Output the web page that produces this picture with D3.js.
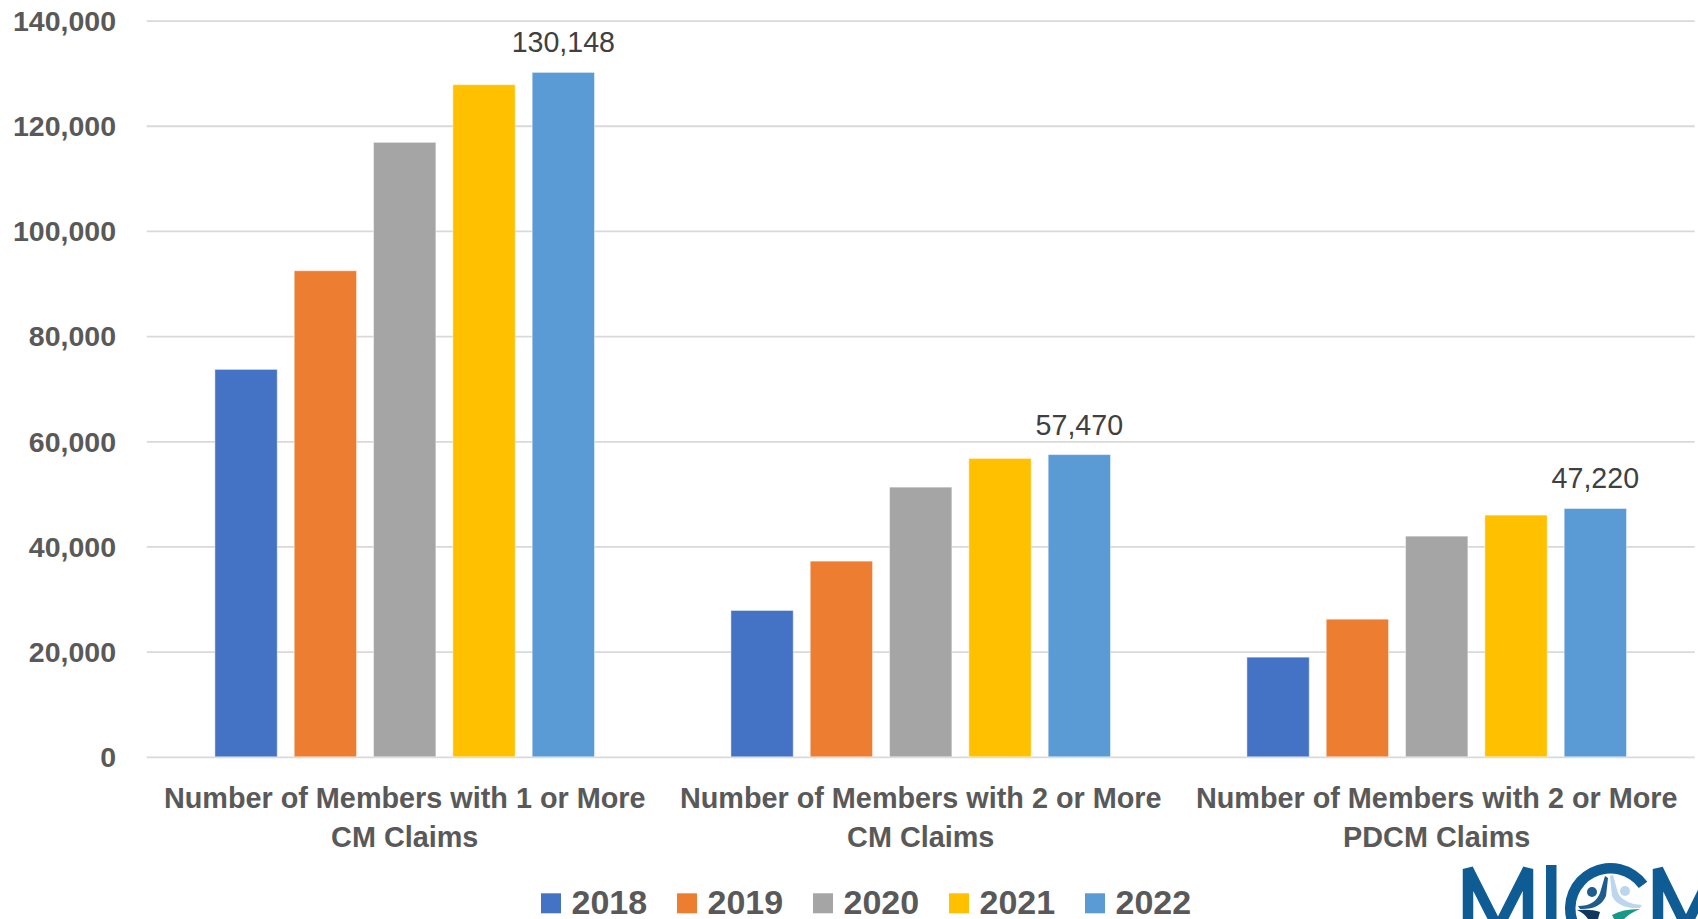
<!DOCTYPE html>
<html>
<head>
<meta charset="utf-8">
<script src="https://cdn.jsdelivr.net/npm/d3@7"></script>
<style>
  html, body { margin: 0; padding: 0; background: #ffffff; }
  svg { display: block; }
  text { font-family: "Liberation Sans", Arial, sans-serif; }
</style>
</head>
<body>
<svg id="chart" width="1698" height="919"></svg>
<script>
// Members with CM / PDCM claims, by year
const categories = [
  ["Number of Members with 1 or More", "CM Claims"],
  ["Number of Members with 2 or More", "CM Claims"],
  ["Number of Members with 2 or More", "PDCM Claims"]
];
const years = ["2018", "2019", "2020", "2021", "2022"];
const v2018 = [73670, 27830, 18950];
const v2019 = [92430, 37210, 26170];
const v2020 = [116850, 51280, 41960];
const v2021 = [127810, 56740, 45960];
const v2022 = [130148, 57470, 47220];
const seriesValues = [v2018, v2019, v2020, v2021, v2022];
const colors = ["#4472c4", "#ed7d31", "#a5a5a5", "#ffc000", "#5b9bd5"];
const yTicks = [0, 20000, 40000, 60000, 80000, 100000, 120000, 140000];
const labeledSeries = "2022";

const svg = d3.select("#chart");
const fmt = d3.format(",");
const catKeys = categories.map(c => c.join(" "));

const y = d3.scaleLinear().domain([0, 140000]).range([756.8, 20.6]);
const x0 = d3.scaleBand().domain(catKeys).range([146.7, 1694.7]).padding(0);
const x1 = d3.scaleBand().domain(years).range([0, x0.bandwidth()])
  .paddingInner(0.2144).paddingOuter(0.86);

// gridlines
const yAxis = d3.axisLeft(y).tickValues(yTicks).tickSize(-(1694.7 - 146.7)).tickFormat("");
const grid = svg.append("g").attr("transform", "translate(146.7,0)").call(yAxis);
grid.select(".domain").remove();
grid.selectAll(".tick line").attr("stroke", "#d9d9d9").attr("stroke-width", 1.8);

// y tick labels
svg.append("g").selectAll("text").data(yTicks).join("text")
  .attr("x", 116).attr("y", d => y(d) + 10.3)
  .attr("text-anchor", "end")
  .attr("font-size", "28.5px").attr("font-weight", "bold").attr("fill", "#595959")
  .text(d => fmt(d));

// bars
const rows = years.map((yr, i) => ({ year: yr, color: colors[i], values: seriesValues[i] }));
const groups = svg.append("g").selectAll("g").data(rows).join("g").attr("fill", d => d.color);
groups.selectAll("rect").data(d => d.values.map((v, j) => ({ year: d.year, cat: catKeys[j], v })))
  .join("rect")
  .attr("x", d => x0(d.cat) + x1(d.year))
  .attr("width", x1.bandwidth())
  .attr("y", d => y(d.v))
  .attr("height", d => y(0) - y(d.v))
  .attr("stroke", "#ffffff").attr("stroke-opacity", 0.45).attr("stroke-width", 1);

// value labels on the latest year
const li = years.indexOf(labeledSeries);
svg.append("g").selectAll("text").data(seriesValues[li].map((v, j) => ({ v, cat: catKeys[j] })))
  .join("text")
  .attr("x", d => x0(d.cat) + x1(labeledSeries) + x1.bandwidth() / 2)
  .attr("y", d => y(d.v) - 20)
  .attr("text-anchor", "middle")
  .attr("font-size", "28.6px").attr("fill", "#404040")
  .text(d => fmt(d.v));

// category labels
const catG = svg.append("g").selectAll("text").data(categories).join("text")
  .attr("text-anchor", "middle")
  .attr("font-size", "28.8px").attr("font-weight", "bold").attr("fill", "#595959")
  .attr("transform", (d, i) => `translate(${x0(catKeys[i]) + x0.bandwidth() / 2},0)`);
catG.selectAll("tspan").data(d => d).join("tspan")
  .attr("x", 0).attr("y", (d, k) => 808.3 + k * 39)
  .text(d => d);

// legend
const legend = svg.append("g").selectAll("g").data(years).join("g")
  .attr("transform", (d, i) => `translate(${541 + i * 136},0)`);
legend.append("rect").attr("x", 0).attr("y", 893.3).attr("width", 20).attr("height", 20)
  .attr("fill", (d, i) => colors[i]);
legend.append("text")
  .attr("x", 30.5).attr("y", 913.5)
  .attr("font-size", "34px").attr("font-weight", "bold").attr("fill", "#595959")
  .text(d => d);

// organisation logo, bottom right
const logo = svg.append("g");
const navy = "#0f5b93";
logo.append("path")
  .attr("d", "M1468,950 L1468,869 L1498,928 L1528,869 L1528,950")
  .attr("fill", "none").attr("stroke", navy).attr("stroke-width", 10.5).attr("stroke-linejoin", "miter");
logo.append("rect").attr("x", 1546).attr("y", 865).attr("width", 10.5).attr("height", 80).attr("fill", navy);
logo.append("path").attr("transform", "translate(1610.5,908.5)")
  .attr("d", d3.arc().innerRadius(35).outerRadius(45.5).startAngle(-Math.PI * 1.05).endAngle(Math.PI * 0.3)())
  .attr("fill", navy);
logo.append("path")
  .attr("d", "M1658,950 L1658,869 L1686,926 L1714,869 L1714,950")
  .attr("fill", "none").attr("stroke", navy).attr("stroke-width", 10.5).attr("stroke-linejoin", "miter");
// figures inside the C
logo.append("circle").attr("cx", 1592).attr("cy", 892).attr("r", 5).attr("fill", "#1d5c8c");
logo.append("path").attr("d", "M1578,906 Q1595,906 1600,893 L1605,876 L1608,878 L1606,896 Q1600,910 1580,909 Z")
  .attr("fill", "#1d5c8c");
logo.append("circle").attr("cx", 1625).attr("cy", 891).attr("r", 5).attr("fill", "#bcd6ee");
logo.append("path").attr("d", "M1610,876 L1613,875 L1618,893 Q1624,904 1642,905 L1640,908 Q1618,909 1612,896 Z")
  .attr("fill", "#bcd6ee");
logo.append("path").attr("d", "M1577,910 Q1592,909 1600,912 L1598,919 L1588,919 Q1584,913 1577,910 Z")
  .attr("fill", "#12375e");
logo.append("path").attr("d", "M1640,909 Q1622,909 1612,915 L1614,919 L1624,919 Q1630,913 1640,909 Z")
  .attr("fill", "#17998a");
</script>
</body>
</html>
